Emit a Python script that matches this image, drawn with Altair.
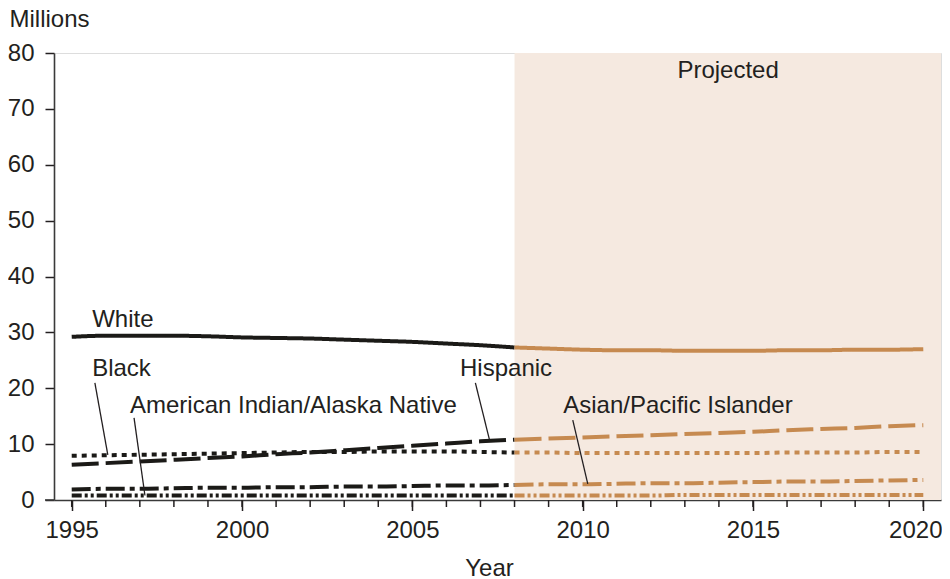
import altair as alt
import pandas as pd

# ---------------- data ----------------
years = list(range(1995, 2021))
series_names = ["White", "Hispanic", "Black", "Asian/Pacific Islander", "American Indian/Alaska Native"]
white = [29.2, 29.4, 29.4, 29.4, 29.3, 29.1, 29.0, 28.9, 28.7, 28.5, 28.3, 28.0, 27.7, 27.3,
         27.1, 26.9, 26.8, 26.8, 26.7, 26.7, 26.7, 26.8, 26.8, 26.9, 26.9, 27.0]
hispanic = [6.3, 6.6, 6.9, 7.2, 7.5, 7.8, 8.2, 8.5, 8.9, 9.3, 9.7, 10.1, 10.5, 10.8,
            11.0, 11.2, 11.4, 11.6, 11.8, 12.0, 12.2, 12.5, 12.7, 12.9, 13.2, 13.4]
black = [7.9, 8.0, 8.1, 8.2, 8.3, 8.4, 8.5, 8.6, 8.6, 8.7, 8.7, 8.7, 8.6, 8.5,
         8.5, 8.4, 8.4, 8.4, 8.4, 8.4, 8.4, 8.5, 8.5, 8.5, 8.6, 8.6]
asian = [1.9, 2.0, 2.0, 2.1, 2.2, 2.2, 2.3, 2.3, 2.4, 2.4, 2.5, 2.6, 2.6, 2.7,
         2.8, 2.8, 2.9, 3.0, 3.0, 3.1, 3.2, 3.3, 3.3, 3.4, 3.5, 3.6]
aian = [0.8, 0.8, 0.8, 0.8, 0.8, 0.8, 0.8, 0.8, 0.8, 0.8, 0.8, 0.8, 0.8, 0.8,
        0.8, 0.8, 0.8, 0.8, 0.9, 0.9, 0.9, 0.9, 0.9, 0.9, 0.9, 0.9]
projection_start = 2008

x_domain = [1994.48, 2020.52]
y_domain = [0, 80]
x_major_ticks = [1995, 2000, 2005, 2010, 2015, 2020]
y_ticks = [0, 10, 20, 30, 40, 50, 60, 70, 80]

label_text = ["White", "Black", "American Indian/Alaska Native", "Hispanic", "Asian/Pacific Islander"]
label_x = [1995.6, 1995.6, 1996.71, 2006.4, 2009.43]
label_y = [32.2, 23.5, 16.8, 23.5, 16.8]

pointer_x = [1995.68, 1996.83, 2006.85, 2009.71]
pointer_x2 = [1996.06, 1997.15, 2007.26, 2010.15]
pointer_y = [20.95, 14.7, 20.95, 14.3]
pointer_y2 = [8.06, 0.8, 10.9, 2.9]

projected_label = "Projected"
projected_x = 2014.27
projected_y = 76.8

# ---------------- styles ----------------
FONT = "Liberation Sans"
FS = 24
TXT = "#231f20"
HIST = "#1b1a17"
PROJ = "#c68a50"
SHADE = "#f5e9e0"
AXC = "#3a3a3a"
dashes = [[1, 0], [27, 7], [5, 5], [19, 5, 5, 5], [10, 3, 3, 3, 3, 3]]

W, H = 887, 447

# ---------------- build tables ----------------
vals = {"White": white, "Hispanic": hispanic, "Black": black,
        "Asian/Pacific Islander": asian, "American Indian/Alaska Native": aian}
rows = []
for s in series_names:
    for y, v in zip(years, vals[s]):
        if y <= projection_start:
            rows.append({"year": y, "value": v, "series": s, "period": "hist", "key": s + "-hist"})
        if y >= projection_start:
            rows.append({"year": y, "value": v, "series": s, "period": "proj", "key": s + "-proj"})
df = pd.DataFrame(rows)

xs = alt.Scale(domain=x_domain, nice=False, zero=False)
ys = alt.Scale(domain=y_domain, nice=False)

shade_df = pd.DataFrame({"x": [projection_start], "x2": [x_domain[1]], "y": [y_domain[0]], "y2": [y_domain[1]]})
shade = alt.Chart(shade_df).mark_rect(color=SHADE).encode(
    x=alt.X("x:Q", scale=xs,
            axis=alt.Axis(values=x_major_ticks, format="d", tickSize=10.5, tickWidth=1.5, tickColor=TXT,
                          domainColor=AXC, domainWidth=1.6, labelFont=FONT, labelFontSize=FS,
                          labelColor=TXT, labelPadding=8, grid=False, title="Year",
                          labelOffset=alt.condition("datum.value == 2020", alt.value(-8), alt.value(0)),
                          titleFont=FONT, titleFontSize=FS, titleFontWeight="normal", titleColor=TXT,
                          titleAnchor="start", titleAlign="center", titleBaseline="alphabetic",
                          titleX=435, titleY=75)),
    x2="x2:Q",
    y=alt.Y("y:Q", scale=ys,
            axis=alt.Axis(values=y_ticks, tickSize=9, tickWidth=1.5, tickColor=TXT,
                          domainColor=AXC, domainWidth=1.6, labelFont=FONT, labelFontSize=FS,
                          labelColor=TXT, labelPadding=11, grid=False, title="Millions",
                          titleFont=FONT, titleFontSize=FS, titleFontWeight="normal", titleColor=TXT,
                          titleAngle=0, titleAlign="left", titleBaseline="alphabetic",
                          titleX=-45, titleY=-27)),
    y2="y2:Q",
)

lines = alt.Chart(df).mark_line(strokeWidth=4, interpolate="monotone", strokeCap="butt").encode(
    x=alt.X("year:Q", scale=xs),
    y=alt.Y("value:Q", scale=ys),
    color=alt.Color("period:N", scale=alt.Scale(domain=["hist", "proj"], range=[HIST, PROJ]), legend=None),
    strokeDash=alt.StrokeDash("series:N", scale=alt.Scale(domain=series_names, range=dashes), legend=None),
    detail="key:N",
)

minor_df = pd.DataFrame({"year": years})
minor = alt.Chart(minor_df).mark_rule(color=TXT, strokeWidth=1.5).encode(
    x=alt.X("year:Q", scale=xs), y=alt.value(H), y2=alt.value(H + 7)
)

overshoot = alt.Chart(pd.DataFrame({"a": [0]})).mark_rule(color=AXC, strokeWidth=1.6).encode(
    x=alt.value(-9), x2=alt.value(0), y=alt.value(H)
)

ptr_df = pd.DataFrame({"x": pointer_x, "x2": pointer_x2, "y": pointer_y, "y2": pointer_y2})
pointers = alt.Chart(ptr_df).mark_rule(color=TXT, strokeWidth=1.3).encode(
    x=alt.X("x:Q", scale=xs), x2="x2:Q", y=alt.Y("y:Q", scale=ys), y2="y2:Q"
)

lab_df = pd.DataFrame({"x": label_x, "y": label_y, "t": label_text})
labels = alt.Chart(lab_df).mark_text(align="left", baseline="middle", font=FONT, fontSize=FS, color=TXT).encode(
    x=alt.X("x:Q", scale=xs), y=alt.Y("y:Q", scale=ys), text="t:N"
)

proj_df = pd.DataFrame({"x": [projected_x], "y": [projected_y], "t": [projected_label]})
proj_label = alt.Chart(proj_df).mark_text(align="center", baseline="middle", font=FONT, fontSize=FS, color=TXT).encode(
    x=alt.X("x:Q", scale=xs), y=alt.Y("y:Q", scale=ys), text="t:N"
)

chart = alt.layer(shade, lines, minor, overshoot, pointers, labels, proj_label).properties(
    width=W, height=H,
    autosize=alt.AutoSizeParams(type="none"),
    padding={"left": 46, "top": 45, "right": 1, "bottom": 79},
).configure_view(stroke=None).configure(background="white")

chart.save("out.html", embed_options={"renderer": "svg", "actions": False})
